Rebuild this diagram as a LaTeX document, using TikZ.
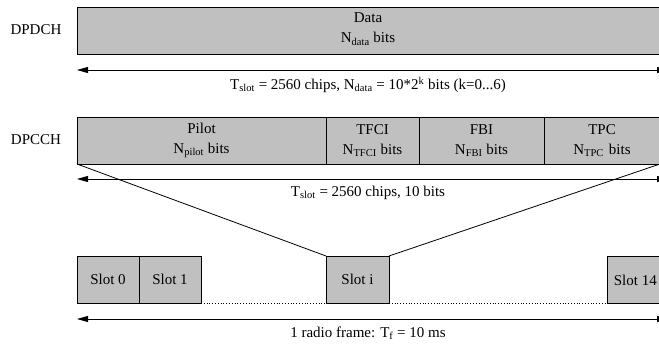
\documentclass[tikz,border=0pt]{standalone}
\usepackage{fontspec}
\setmainfont{Liberation Serif}
\usetikzlibrary{arrows.meta}
\definecolor{boxgray}{RGB}{192,192,192}
\begin{document}
\begin{tikzpicture}[x=1pt,y=-1pt,
  font=\fontsize{15}{20}\selectfont,
  field/.style={draw, fill=boxgray, line width=0.8pt, inner sep=0pt, outer sep=0pt,
    anchor=north west, align=center, minimum height=47pt},
  span/.style={{Triangle[length=11pt,width=6pt]}-{Triangle[length=11pt,width=6pt]}, line width=0.8pt},
  lbl/.style={inner sep=0pt}]
\useasboundingbox (0,0) rectangle (659,344);
\clip (0,0) rectangle (659,344);

% DPDCH
\node[lbl] (dpdch) at (36,30) {DPDCH};
\node[field, minimum width=583pt] (data) at (77,7) {};
\node[lbl, align=center] (datatxt) at (368,29) {Data\\N\textsubscript{data} bits};
\coordinate (a1l) at (77,70);
\coordinate (a1r) at (668,70);
\draw[span] (a1l) -- (a1r);
\node[lbl] (t1) at (368,85) {T\textsubscript{slot} = 2560 chips, N\textsubscript{data} = 10*2\textsuperscript{k} bits (k=0...6)};

% DPCCH
\node[lbl] (dpcch) at (36,140) {DPCCH};
\node[field, minimum width=249pt] (pilot) at (77,117) {Pilot\\N\textsubscript{pilot} bits};
\node[field, minimum width=93pt] (tfci) at (326,117) {TFCI\\N\textsubscript{TFCI} bits};
\node[field, minimum width=125pt] (fbi) at (419,117) {FBI\\N\textsubscript{FBI} bits};
\node[field, minimum width=116pt, text width=116pt] (tpc) at (544,117) {TPC\\N\textsubscript{TPC} bits};
\coordinate (a2l) at (77,179);
\coordinate (a2r) at (668,179);
\draw[span] (a2l) -- (a2r);
\node[lbl] (t2) at (368,193) {T\textsubscript{slot} = 2560 chips, 10 bits};

% Slots
\node[field, minimum width=62pt] (s0) at (77,256) {Slot 0};
\node[field, minimum width=62pt] (s1) at (139,256) {Slot 1};
\node[field, minimum width=63pt] (si) at (326,256) {Slot i};
\node[field, minimum width=63pt] (s14) at (607,256) {};
\node[lbl, anchor=east] (s14txt) at (657,280) {Slot 14};

\draw[line width=0.8pt] (pilot.south west) -- (si.north west);
\draw[line width=0.8pt] (tpc.south east) -- (si.north east);
\draw[line width=0.8pt, dotted] (s1.south east) -- (si.south west);
\draw[line width=0.8pt, dotted] (si.south east) -- (s14.south west);

\coordinate (a3l) at (77,319);
\coordinate (a3r) at (668,319);
\draw[span] (a3l) -- (a3r);
\node[lbl] (t3) at (368,333) {1 radio frame: T\textsubscript{f} = 10 ms};
\end{tikzpicture}
\end{document}
